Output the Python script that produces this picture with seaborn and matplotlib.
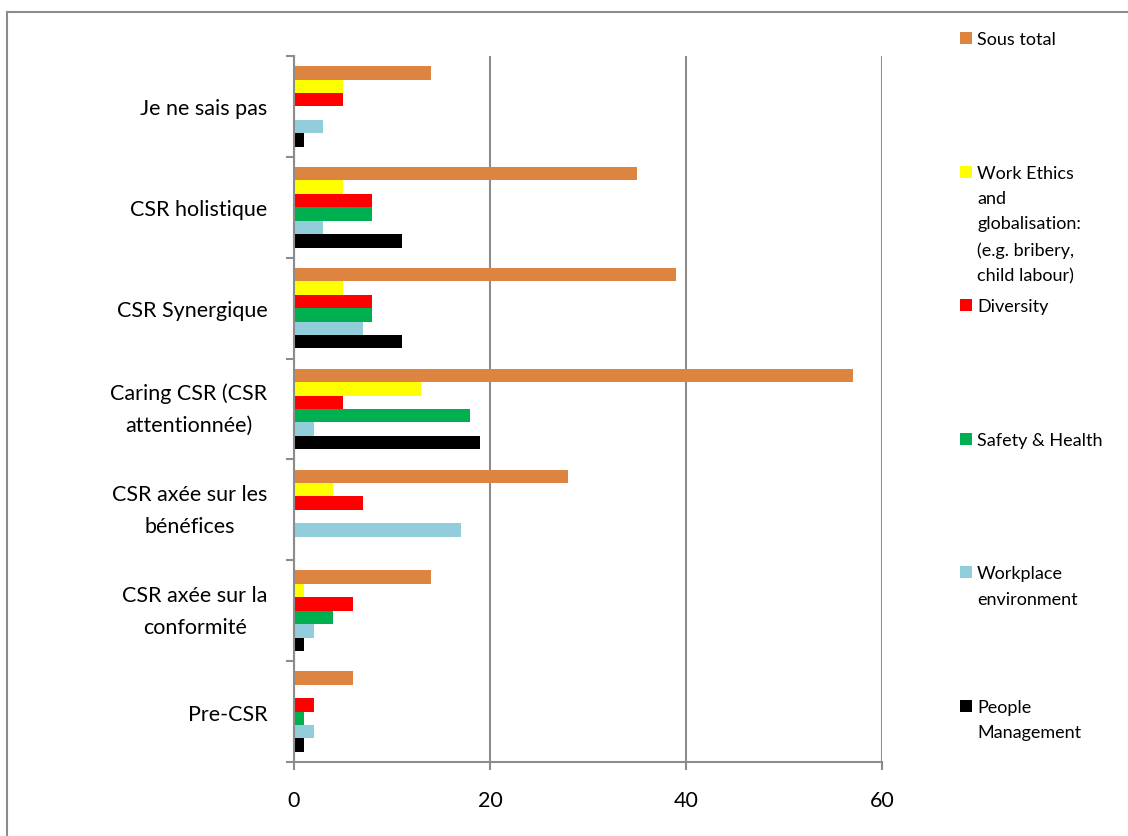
import matplotlib
matplotlib.use('Agg')

import matplotlib.pyplot as plt
import numpy as np
import pandas as pd
import seaborn as sns
from matplotlib.lines import Line2D
from matplotlib.patches import Rectangle
from matplotlib.ticker import FixedLocator

# ------------------------------------------------------------
#     Data
# ------------------------------------------------------------

categories = [
    "Je ne sais pas",
    "CSR holistique",
    "CSR Synergique",
    "Caring CSR (CSR\nattentionnée)",
    "CSR axée sur les\nbénéfices",
    "CSR axée sur la\nconformité",
    "Pre-CSR",
]
series_names = [
    "Sous total",
    "Work Ethics\nand\nglobalisation:\n(e.g. bribery,\nchild labour)",
    "Diversity",
    "Safety & Health",
    "Workplace\nenvironment",
    "People\nManagement",
]
sous_total = [14, 35, 39, 57, 28, 14, 6]
work_ethics = [5, 5, 5, 13, 4, 1, 0]
diversity = [5, 8, 8, 5, 7, 6, 2]
safety_health = [0, 8, 8, 18, 0, 4, 1]
workplace_env = [3, 3, 7, 2, 17, 2, 2]
people_mgmt = [1, 11, 11, 19, 0, 1, 1]
xticks = [0, 20, 40, 60]

colors = ["#DC8440", "#FFFF00", "#FF0000", "#00B050", "#92CDDC", "#000000"]

# long format table for seaborn
all_values = [sous_total, work_ethics, diversity, safety_health, workplace_env, people_mgmt]
rows = []
for name, vals in zip(series_names, all_values):
    for cat, v in zip(categories, vals):
        rows.append({"category": cat, "series": name, "value": v})
df = pd.DataFrame(rows)

# ------------------------------------------------------------
#     Plot
# ------------------------------------------------------------

font = ["Lato", "DejaVu Sans"]
plt.rcParams['font.family'] = font
grid_col = "#8C8C8C"

fig = plt.figure(figsize=(11.28, 8.37), dpi=100)
ax = fig.add_axes([294/1128, 1 - 763/837, (882-294)/1128, (763-57)/837])

sns.barplot(
    data=df, y="category", x="value", hue="series", orient="h",
    order=categories, hue_order=series_names, palette=colors,
    width=0.8, ax=ax, legend=False, saturation=1, linewidth=0,
)

ax.set_xlim(0, 60)
ax.set_ylim(len(categories) - 0.5, -0.5)
ax.set_xticks(xticks)
ax.set_xlabel("")
ax.set_ylabel("")
ax.xaxis.grid(True, color=grid_col, linewidth=1.5)
ax.set_axisbelow(True)

for side in ["top", "right"]:
    ax.spines[side].set_visible(False)
for side in ["left", "bottom"]:
    ax.spines[side].set_color(grid_col)
    ax.spines[side].set_linewidth(1.5)

# category boundaries get the tick marks, the labels sit in between
ax.yaxis.set_minor_locator(FixedLocator(np.arange(-0.5, len(categories), 1.0)))
ax.tick_params(axis="y", which="major", length=0, pad=19, labelsize=15.5)
ax.tick_params(axis="y", which="minor", length=6, width=1.5, color=grid_col, direction="out")
ax.tick_params(axis="x", length=6, width=1.5, color=grid_col, pad=14, labelsize=15.5)
for lab in ax.get_yticklabels():
    lab.set_multialignment("center")
    lab.set_linespacing(1.75)
    if "\n" in lab.get_text():
        lab.set_verticalalignment("center")

# outer frame (only top and left edges visible)
fig.add_artist(Line2D([7/1128, 1.0], [1 - 13/837, 1 - 13/837], color=grid_col, lw=1.5))
fig.add_artist(Line2D([7/1128, 7/1128], [1 - 13/837, 0.0], color=grid_col, lw=1.5))

# legend, entries spread over the right side
leg_y = np.linspace(1 - 39/837, 1 - 707/837, len(series_names))
for name, col, y in zip(series_names, colors, leg_y):
    fig.add_artist(Rectangle((960/1128, y - 6/837), 12/1128, 12/837,
                             facecolor=col, edgecolor="none", transform=fig.transFigure))
    fig.text(977/1128, y + 7/837, name, ha="left", va="top", fontsize=13,
             linespacing=1.72, family=font)

plt.savefig("out.png", dpi=100)
